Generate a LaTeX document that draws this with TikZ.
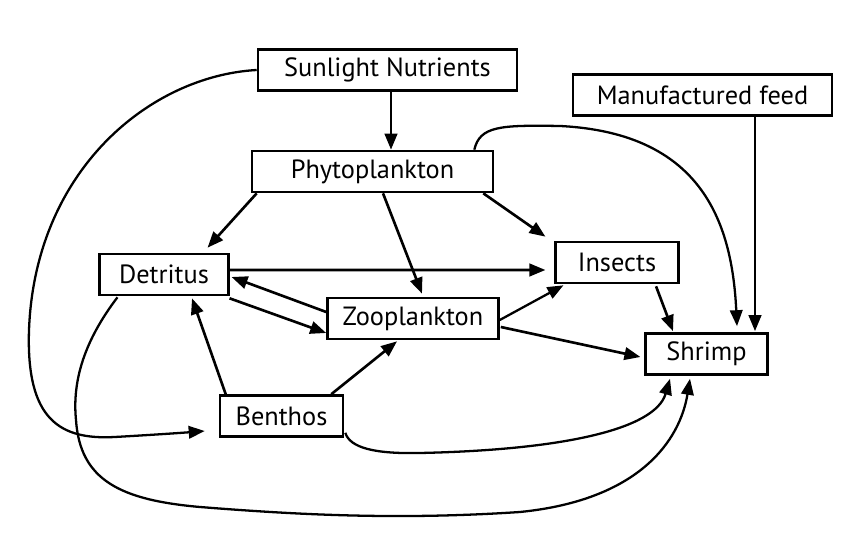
\documentclass[tikz,border=0pt]{standalone}
\usepackage{fontspec}
\setmainfont{PT Sans}
\usepackage{tikz}
\usetikzlibrary{calc}
\usetikzlibrary{arrows.meta}
\tikzset{
  myarrow/.style={
    draw=black,
    line width=1.5pt,
    -{Triangle[length=3.2mm,width=2.5mm]},
  },
  mycurve/.style={
    draw=black,
    line width=1.3pt,
    -{Triangle[length=3.2mm,width=2.5mm]},
  },
  mybox/.style={
    draw=black,
    shape=rectangle,
    line width=1.5pt,
    align=center,
    inner sep=0pt,
    minimum height=0.82cm,
    font=\fontsize{15pt}{18pt}\selectfont
  },
}

\begin{document}
\begin{tikzpicture}[x=0.02cm,y=-0.02cm]
  \useasboundingbox (0,0) rectangle (850,546);

  \node[mybox, minimum width=5.18cm] (sun) at (387.5,70) {Sunlight Nutrients};
  \node[mybox, minimum width=4.82cm] (phyto) at (372.5,171.5) {Phytoplankton};
  \node[mybox, minimum width=5.18cm] (feed) at (702.5,95) {Manufactured feed};
  \node[mybox, minimum width=2.57cm] (detr) at (164,274.5) {Detritus};
  \node[mybox, minimum width=2.45cm] (insects) at (617,262.5) {Insects};
  \node[mybox, minimum width=3.42cm] (zoo) at (413,318.5) {Zooplankton};
  \node[mybox, minimum width=2.43cm] (shrimp) at (706.5,354) {Shrimp};
  \node[mybox, minimum width=2.46cm] (benthos) at (281.5,416) {Benthos};

  % straight links
  \draw[myarrow] ($(sun.south)+(3.5,0)$) -- ($(phyto.north)+(18.5,0)$);
  \draw[myarrow] ($(phyto.south west)+(6,0)$) -- ($(detr.north east)+(-22,-5)$);
  \draw[myarrow] ($(phyto.south)+(10.5,0)$) -- ($(zoo.north)+(9,-3)$);
  \draw[myarrow] ($(phyto.south east)+(-11,0)$) -- ($(insects.north west)+(-9,-4)$);
  \draw[myarrow] ($(feed.south)+(52.5,0)$) -- ($(shrimp.north)+(48.5,-1)$);
  \draw[myarrow] ($(detr.east)+(0,-4.5)$) -- ($(insects.west)+(-9,7.5)$);
  \draw[myarrow] ($(zoo.west)+(0,-6.5)$) -- ($(detr.east)+(2,2.5)$);
  \draw[myarrow] ($(detr.south east)+(0,2)$) -- ($(zoo.west)+(0,14.5)$);
  \draw[mycurve] ($(zoo.east)+(0,1.5)$) -- ($(insects.south west)+(9,1)$);
  \draw[myarrow] ($(zoo.east)+(1,8.5)$) -- ($(shrimp.west)+(-4,3)$);
  \draw[myarrow] ($(insects.south east)+(-23.5,2)$) -- ($(shrimp.north)+(-33.5,-1)$);
  \draw[myarrow] ($(benthos.north west)+(7,0)$) -- ($(detr.south)+(28,2)$);
  \draw[myarrow] ($(benthos.north east)+(-13,0)$) -- ($(zoo.south)+(-16,1)$);

  % curved links
  \draw[mycurve] (sun.west) .. controls (150,76) and (35,170) .. (29,330)
    .. controls (26,420) and (60,440) .. (115,437)
    .. controls (150,435) and (180,433) .. ($(benthos.west)+(-14,15)$);
  \draw[mycurve] ($(phyto.north east)+(-20,0)$) .. controls (480,126) and (500,125) .. (560,126)
    .. controls (700,133) and (732,220) .. ($(shrimp.north)+(30.5,-6)$);
  \draw[mycurve] ($(benthos.south east)+(1,-5)$) .. controls (350,448) and (375,454) .. (420,453)
    .. controls (560,450) and (655,430) .. ($(shrimp.south)+(-36.5,3)$);
  \draw[mycurve] ($(detr.south west)+(19,1)$) .. controls (85,340) and (72,380) .. (76,420)
    .. controls (80,480) and (120,500) .. (200,507)
    .. controls (300,515) and (400,520) .. (520,512)
    .. controls (640,500) and (680,440) .. ($(shrimp.south)+(-16.5,3)$);
\end{tikzpicture}
\end{document}
